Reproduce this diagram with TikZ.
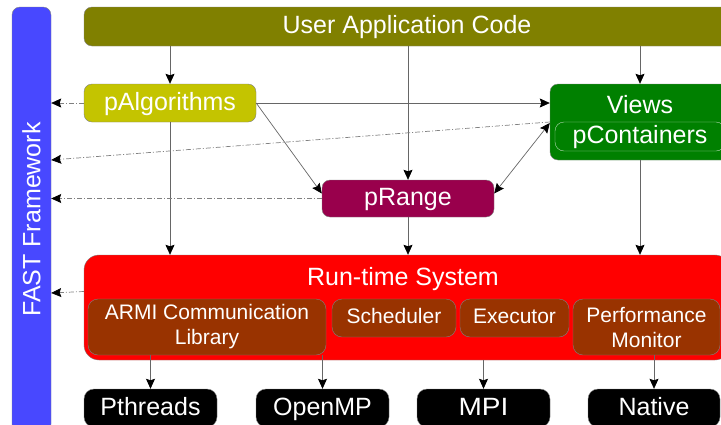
\documentclass[tikz,border=0pt]{standalone}
\usepackage{fontspec}
\setmainfont{Liberation Sans}
\usetikzlibrary{arrows.meta}
\definecolor{fastblue}{RGB}{72,72,255}
\definecolor{userolive}{RGB}{128,128,0}
\definecolor{algyellow}{RGB}{196,196,0}
\definecolor{viewgreen}{RGB}{0,128,0}
\definecolor{rangepurple}{RGB}{153,0,76}
\definecolor{rtsred}{RGB}{255,0,0}
\definecolor{subbrown}{RGB}{153,51,0}
\begin{document}
\begin{tikzpicture}[x=1pt, y=-1pt, every node/.style={font=\fontsize{25}{27}\selectfont, text=white, text height=16pt, text depth=2pt},
	box/.style={draw=gray, rounded corners=8pt, inner sep=0pt, align=center},
	sub/.style={box, draw=black!50, fill=subbrown, rounded corners=10pt, font=\fontsize{21}{25}\selectfont, text height=13.5pt, text depth=2pt},
	two/.style={sub, text height=, text depth=, minimum height=56pt},
	plat/.style={box, fill=black, rounded corners=10pt, minimum width=133pt, minimum height=38pt},
	tip/.tip={Stealth[length=10pt, width=9pt, inset=1.5pt, color=black]},
	arr/.style={-tip, gray!80!black, line width=0.7pt},
	dep/.style={arr, gray, dash pattern=on 5pt off 2pt on 1pt off 2pt}]
	\clip (0,0) rectangle (721,424);
	\node[draw=gray, fill=fastblue, rounded corners=8pt, inner sep=0pt, minimum width=39pt, minimum height=425pt, text height=, text depth=] (fast) at (31.5,219.5) {\rotatebox{90}{FAST Framework}};
	\node[box, fill=userolive, minimum width=646pt, minimum height=39pt] (user) at (407,26.5) {User Application Code};
	\node[box, fill=algyellow, minimum width=172pt, minimum height=38pt] (palg) at (170,103) {pAlgorithms};
	\node[box, fill=viewgreen, minimum width=180pt, minimum height=76pt] (views) at (640,122) {};
	\node (vtitle) at (640,106) {Views};
	\node[box, draw=white!70!viewgreen, rounded corners=9pt, minimum width=170pt, minimum height=29pt] (pcont) at (640,136.5) {pContainers};
	\node[box, fill=rangepurple, minimum width=172pt, minimum height=37pt] (prange) at (408,198.5) {pRange};
	\node[box, fill=rtsred, rounded corners=15pt, minimum width=646pt, minimum height=105pt] (rts) at (407,307.5) {};
	\node (rtitle) at (403,278) {Run-time System};
	\node[two, minimum width=238pt] (armi) at (207,327) {ARMI Communication\\Library};
	\node[sub, minimum width=124pt, minimum height=38pt] (sched) at (394,318) {Scheduler};
	\node[sub, minimum width=109pt, minimum height=38pt] (exec) at (514.5,318) {Executor};
	\node[two, minimum width=147pt] (perf) at (646.5,327) {Performance\\Monitor};
	\node[plat] (pthr) at (150.5,408) {Pthreads}; \node[plat] (omp) at (322.5,408) {OpenMP}; \node[plat] (mpi) at (483.5,408) {\scalebox{1.12}[1]{MPI}}; \node[plat, minimum width=132pt] (native) at (654,408) {Native};
	\foreach \a in {palg, prange, views} {\draw[arr] (\a.north |- user.south) -- (\a.north);}
	\foreach \a in {palg, prange, views} {\draw[arr] (\a.south) -- (\a.south |- rts.north);}
	\foreach \a/\b in {armi/pthr, armi/omp, rts/mpi, perf/native} {\draw[arr] (\b.north |- \a.south) -- (\b.north);}
	\draw[arr] (palg.east) -- (palg.east -| views.west);
	\draw[arr] (palg.east) -- ([yshift=5pt]prange.west);
	\draw[arr, tip-tip] ([yshift=5pt]prange.east) -- ([yshift=-1pt]views.west);
	\draw[dep] (palg.west) -- (palg.west -| fast.east);
	\draw[dep] (views.west) -- (fast.east |- 0,160);
	\draw[dep] (prange.west) -- (prange.west -| fast.east);
	\draw[dep] ([yshift=16pt]rts.west) -- (fast.east |- 0,293);
\end{tikzpicture}
\end{document}
